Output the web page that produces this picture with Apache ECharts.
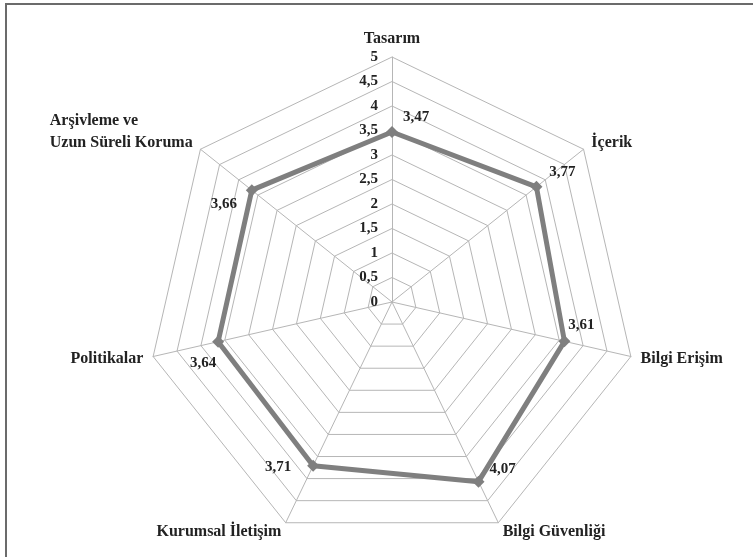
<!DOCTYPE html>
<html>
<head>
<meta charset="utf-8">
<script src="https://cdn.jsdelivr.net/npm/echarts@6/dist/echarts.min.js"></script>
<style>
  html, body { margin: 0; padding: 0; background: #fff; }
  #chart { width: 753px; height: 557px; }
</style>
</head>
<body>
<div id="chart"></div>
<script>
// clockwise from the top, as in the picture
var dimensions = ['Tasarım', 'İçerik', 'Bilgi Erişim', 'Bilgi Güvenliği',
  'Kurumsal İletişim', 'Politikalar', 'Arşivleme ve\nUzun Süreli Koruma'];
var scores = [3.47, 3.77, 3.61, 4.07, 3.71, 3.64, 3.66];
var scaleMax = 5;
var scaleSteps = 10;

var FONT = '"Liberation Serif", "Times New Roman", serif';
var TEXT_COLOR = '#222';
var LINE_COLOR = '#7f7f7f';
var GRID_COLOR = '#b6b6b6';

// ECharts lays indicators out counter-clockwise, so walk them backwards
var order = [0, 6, 5, 4, 3, 2, 1];
var indicators = order.map(function(i, k){
  var ind = {name: dimensions[i], min: 0, max: scaleMax};
  if (k === 0) {
    ind.axisLabel = {show: true};
  }
  return ind
});
var radarValues = order.map(function(i){ return scores[i] });

// where each value label sits relative to its point (dx, dy), clockwise order
var labelShift = [[24, -15], [26, -15], [17, -16], [24, -13], [-35, 1], [-15, 21], [-28, 14]];

function commaNum(v){
  return String(v).replace('.', ',')
}

var richValue = {};
labelShift.forEach(function(s, i){
  richValue['v' + i] = {
    fontFamily: FONT, fontSize: 15, fontWeight: 'bold', color: TEXT_COLOR,
    padding: [Math.max(0, 2 * s[1]), Math.max(0, -2 * s[0]), Math.max(0, -2 * s[1]), Math.max(0, 2 * s[0])]
  };
});

var chart = echarts.init(document.getElementById('chart'));

var option = {
  backgroundColor: '#fff',
  animation: false,
  graphic: [
    {type: 'line', shape: {x1: 6, y1: 4, x2: 753, y2: 4}, style: {stroke: '#6b6b6b', lineWidth: 2}},
    {type: 'line', shape: {x1: 6, y1: 3, x2: 6, y2: 557}, style: {stroke: '#6b6b6b', lineWidth: 2}}
  ],
  radar: {
    center: [392, 302],
    radius: 245,
    startAngle: 90,
    shape: 'polygon',
    splitNumber: scaleSteps,
    nameGap: 10,
    indicator: indicators,
    axisName: {
      color: TEXT_COLOR,
      fontFamily: FONT,
      fontSize: 16,
      fontWeight: 'bold',
      formatter: function(name){
        if (name.indexOf('\n') >= 0) {
          var parts = name.split('\n');
          return '{a|' + parts[0] + '}\n{a|' + parts[1] + '}\n{a| }'
        }
        return name
      },
      rich: {
        a: {align: 'left', lineHeight: 22, fontFamily: FONT, fontSize: 16, fontWeight: 'bold', color: TEXT_COLOR}
      }
    },
    axisLabel: {
      show: false,
      margin: 14,
      color: TEXT_COLOR,
      fontFamily: FONT,
      fontSize: 15,
      fontWeight: 'bold',
      formatter: function(v){ return commaNum(v) }
    },
    axisLine: {lineStyle: {color: GRID_COLOR, width: 1}},
    axisTick: {show: false},
    splitLine: {lineStyle: {color: GRID_COLOR, width: 1}},
    splitArea: {show: false}
  },
  series: [
    {
      type: 'radar',
      symbol: 'diamond',
      symbolSize: 12,
      itemStyle: {color: LINE_COLOR},
      lineStyle: {color: LINE_COLOR, width: 5},
      label: {
        show: true,
        position: 'inside',
        rich: richValue,
        formatter: function(p){
          var i = scores.indexOf(p.value);
          return '{v' + i + '|' + commaNum(p.value) + '}'
        }
      },
      data: [{value: radarValues}]
    }
  ]
};

chart.setOption(option);
</script>
</body>
</html>
